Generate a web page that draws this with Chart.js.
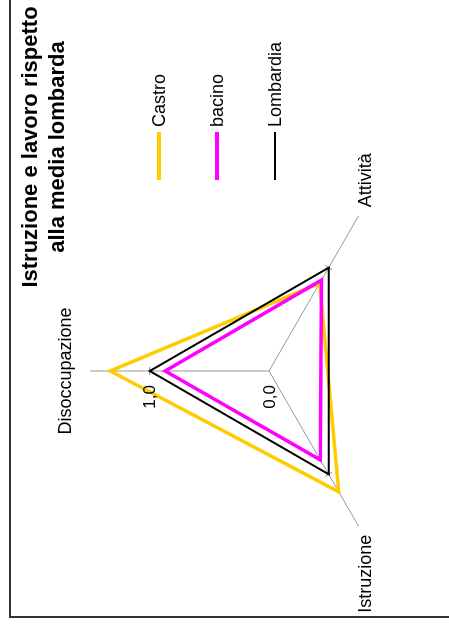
<!DOCTYPE html>
<html lang="it">
<head>
<meta charset="utf-8">
<title>Istruzione e lavoro rispetto alla media lombarda</title>
<script src="https://cdn.jsdelivr.net/npm/chart.js@4/dist/chart.umd.min.js"></script>
<style>
  html, body { margin: 0; padding: 0; overflow: hidden; background: #fff; }
  #page { position: relative; width: 449px; height: 627px; overflow: hidden; background: #fff; }
  /* the sheet is laid out landscape and turned a quarter turn counter-clockwise */
  #sheet {
    position: absolute; left: 0; top: 627px; width: 627px; height: 449px;
    transform-origin: 0 0; transform: rotate(-90deg);
    font-family: "Liberation Sans", Arial, sans-serif; color: #000;
  }
  #frame {
    position: absolute; left: 9px; top: 9px; width: 800px; height: 600px;
    border-left: 2px solid #333; border-top: 2px solid #333;
  }
  #c { position: absolute; left: 0; top: 0; }
  #title {
    position: absolute; left: 330px; top: 16px; width: 300px;
    text-align: center; font-weight: bold; font-size: 22px; line-height: 27px;
  }
  #legend {
    position: absolute; left: 447px; top: 150px;
    display: flex; flex-direction: column; row-gap: 40px;
  }
  .item { display: flex; align-items: center; height: 18px; font-size: 18px; white-space: nowrap; }
  .swatch { display: inline-block; width: 48px; margin-right: 5px; }
</style>
</head>
<body>
<div id="page">
  <div id="sheet">
    <div id="frame"></div>
    <canvas id="c" width="627" height="449"></canvas>
    <div id="title">Istruzione e lavoro rispetto<br>alla media lombarda</div>
    <div id="legend"></div>
  </div>
</div>
<script>
// Indicators (radar axes), clockwise from the top
const LABELS = ['Disoccupazione', 'Attività', 'Istruzione'];

// Index values relative to the regional average (Lombardia = 1)
const CASTRO = [1.33, 0.85, 1.17];
const BACINO = [0.87, 0.88, 0.86];
const LOMBARDIA = [1.0, 1.0, 1.0];

const SERIES_NAMES = ['Castro', 'bacino', 'Lombardia'];

// Scale
const SCALE_MIN = 0;
const SCALE_MAX = 1.5;
const TICK_VALUES = [0, 1];
const TICK_LABELS = ['0,0', '1,0'];

const FONT = '"Liberation Sans", Arial, sans-serif';

const datasets = [
  { label: SERIES_NAMES[0], data: CASTRO,    borderColor: '#FFCC00', borderWidth: 3.5, order: 3 },
  { label: SERIES_NAMES[1], data: BACINO,    borderColor: '#FF00FF', borderWidth: 3.5, order: 2 },
  { label: SERIES_NAMES[2], data: LOMBARDIA, borderColor: '#000000', borderWidth: 2,   order: 1 }
].map(d => Object.assign(d, {
  fill: false, pointRadius: 0, pointHoverRadius: 0, tension: 0,
  borderJoinStyle: 'miter', backgroundColor: 'transparent'
}));

// Short tick marks across each axis, axis names and the value labels
const radarText = {
  id: 'radarText',
  beforeDatasetsDraw(chart) {
    const s = chart.scales.r, ctx = chart.ctx;
    ctx.save();
    ctx.strokeStyle = '#888';
    ctx.lineWidth = 1;
    for (let i = 0; i < LABELS.length; i++) {
      for (const v of TICK_VALUES) {
        if (v === SCALE_MIN) continue;
        const p = s.getPointPositionForValue(i, v);
        const nx = -Math.sin(p.angle), ny = Math.cos(p.angle);
        ctx.beginPath();
        ctx.moveTo(p.x - nx * 4, p.y - ny * 4);
        ctx.lineTo(p.x + nx * 4, p.y + ny * 4);
        ctx.stroke();
      }
    }
    ctx.restore();
  },
  afterDraw(chart) {
    const s = chart.scales.r, ctx = chart.ctx;
    ctx.save();
    ctx.fillStyle = '#000';

    // value labels beside the first axis
    ctx.font = '17px ' + FONT;
    ctx.textAlign = 'right';
    ctx.textBaseline = 'middle';
    TICK_VALUES.forEach((v, k) => {
      const p = s.getPointPositionForValue(0, v);
      ctx.fillText(TICK_LABELS[k], p.x - 14, p.y + 1);
    });

    // axis names just beyond the end of each axis
    ctx.font = '18px ' + FONT;
    ctx.textBaseline = 'alphabetic';
    LABELS.forEach((name, i) => {
      const top = i === 0;
      const p = s.getPointPosition(i, s.drawingArea + (top ? 19 : 10));
      const dx = p.x - s.xCenter;
      ctx.textAlign = Math.abs(dx) < 1 ? 'center' : (dx > 0 ? 'left' : 'right');
      ctx.fillText(name, p.x, top ? p.y : p.y + 7);
    });
    ctx.restore();
  }
};

new Chart(document.getElementById('c'), {
  type: 'radar',
  data: { labels: LABELS, datasets },
  options: {
    responsive: false,
    animation: false,
    devicePixelRatio: 1,
    layout: { padding: { left: 77, right: 192, top: 90, bottom: 1 } },
    plugins: {
      legend: { display: false },
      title: { display: false },
      tooltip: { enabled: false }
    },
    elements: { line: { tension: 0 } },
    scales: {
      r: {
        min: SCALE_MIN,
        max: SCALE_MAX,
        startAngle: 0,
        grid: { display: false },
        ticks: { display: false },
        pointLabels: { display: false },
        angleLines: { display: true, color: '#999', lineWidth: 1 }
      }
    }
  },
  plugins: [radarText]
});

// Legend built from the same series definitions
const legend = document.getElementById('legend');
datasets.forEach(d => {
  const item = document.createElement('div');
  item.className = 'item';
  const sw = document.createElement('span');
  sw.className = 'swatch';
  sw.style.height = d.borderWidth + 'px';
  sw.style.background = d.borderColor;
  const txt = document.createElement('span');
  txt.textContent = d.label;
  item.appendChild(sw);
  item.appendChild(txt);
  legend.appendChild(item);
});
</script>
</body>
</html>
